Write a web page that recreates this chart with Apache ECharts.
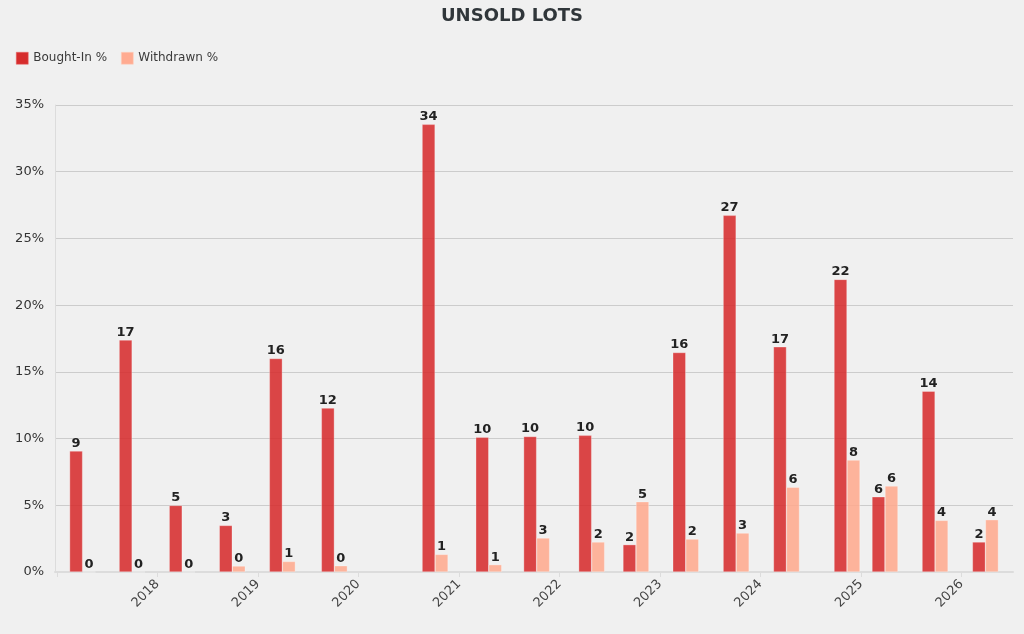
<!DOCTYPE html>
<html>
<head>
<meta charset="utf-8">
<title>Unsold lots</title>
<script src="https://cdn.jsdelivr.net/npm/echarts@6/dist/echarts.min.js"></script>
<style>
  html, body { margin: 0; padding: 0; background: #f0f0f0; }
  #main { width: 1024px; height: 634px; }
</style>
</head>
<body>
<div id="main"></div>
<script>
// sale dates and the two percentages per sale
var saleDates = [
  '2017-04-04', '2017-10-01', '2018-04-01', '2018-09-30', '2019-03-31', '2019-10-06',
  '2020-10-06', '2021-04-19', '2021-10-10', '2022-04-28', '2022-10-06', '2023-04-05',
  '2023-10-05', '2024-04-05', '2024-11-11', '2025-03-29', '2025-09-27', '2026-03-29'
];
var boughtIn = [9.07, 17.39, 4.99, 3.49, 16.0, 12.29, 33.55, 10.09, 10.16, 10.24, 2.05, 16.45,
  26.73, 16.88, 21.93, 5.64, 13.55, 2.25];
var withdrawn = [0, 0, 0, 0.45, 0.79, 0.47, 1.32, 0.55, 2.55, 2.25, 5.27, 2.47,
  2.92, 6.35, 8.39, 6.45, 3.87, 3.92];
var yTicks = [0, 5, 10, 15, 20, 25, 30, 35];

var DAY = 24 * 3600 * 1000;
var font = 'DejaVu Sans';

function pairs(vals) {
  return saleDates.map(function (d, i) { return [d, vals[i]]; });
}

var firstSale = +new Date(saleDates[0]);
var lastSale = +new Date(saleDates[saleDates.length - 1]);
// some room either side of the first and last sale
// (echarts widens it a bit more itself so the bars fit)
var xMin = firstSale - 53 * DAY;
var xMax = lastSale + 53 * DAY;

var chart = echarts.init(document.getElementById('main'));

var label = {
  show: true,
  position: 'top',
  distance: 1,
  fontFamily: font,
  fontSize: 13,
  fontWeight: 'bold',
  color: '#222',
  formatter: function (p) { return Math.round(p.value[1]); }
};

chart.setOption({
  backgroundColor: '#f0f0f0',
  animation: false,
  textStyle: { fontFamily: font },
  title: {
    text: 'UNSOLD LOTS',
    left: 'center',
    top: 2,
    textStyle: { fontFamily: font, fontSize: 18, fontWeight: 'bold', color: '#30363a' }
  },
  legend: {
    left: 11,
    top: 47,
    icon: 'rect',
    itemWidth: 12,
    itemHeight: 12,
    itemGap: 14,
    textStyle: { fontFamily: font, fontSize: 12, color: '#3a3a3a' },
    data: [
      { name: 'Bought-In %', itemStyle: { color: '#d62c2c', borderColor: '#e86a6a', borderWidth: 0.5 } },
      { name: 'Withdrawn %', itemStyle: { color: '#ffab91', borderColor: '#ffd0c0', borderWidth: 0.5 } }
    ]
  },
  grid: { left: 55, right: 11, top: 105, bottom: 62 },
  xAxis: {
    type: 'time',
    min: xMin,
    max: xMax,
    minInterval: 365 * DAY,
    maxInterval: 366 * DAY,
    splitNumber: 10,
    axisLine: { lineStyle: { color: '#dcdcdc', width: 2 } },
    axisTick: { show: true, length: 5, lineStyle: { color: '#dcdcdc' } },
    splitLine: { show: false },
    axisLabel: {
      rotate: 45,
      margin: 10,
      fontFamily: font,
      fontSize: 13,
      color: '#444',
      // no year label before the first sale
      formatter: function (value) {
        return value < firstSale ? '' : String(new Date(value).getFullYear());
      }
    }
  },
  yAxis: {
    type: 'value',
    min: yTicks[0],
    max: yTicks[yTicks.length - 1],
    interval: yTicks[1] - yTicks[0],
    axisLine: { show: true, lineStyle: { color: '#dcdcdc' } },
    axisTick: { show: false },
    splitLine: { lineStyle: { color: '#cccccc' } },
    axisLabel: {
      margin: 11,
      fontFamily: font,
      fontSize: 13,
      color: '#333',
      formatter: '{value}%'
    }
  },
  series: [{
    name: 'Bought-In %',
    type: 'bar',
    barWidth: 13,
    barGap: '0%',
    itemStyle: { color: 'rgba(214,39,40,0.85)', borderColor: 'rgba(255,255,255,0.6)', borderWidth: 0.5 },
    label: label,
    data: pairs(boughtIn)
  }, {
    name: 'Withdrawn %',
    type: 'bar',
    barWidth: 13,
    barGap: '0%',
    itemStyle: { color: 'rgba(255,168,140,0.85)', borderColor: 'rgba(255,255,255,0.6)', borderWidth: 0.5 },
    label: label,
    data: pairs(withdrawn)
  }]
});
</script>
</body>
</html>
